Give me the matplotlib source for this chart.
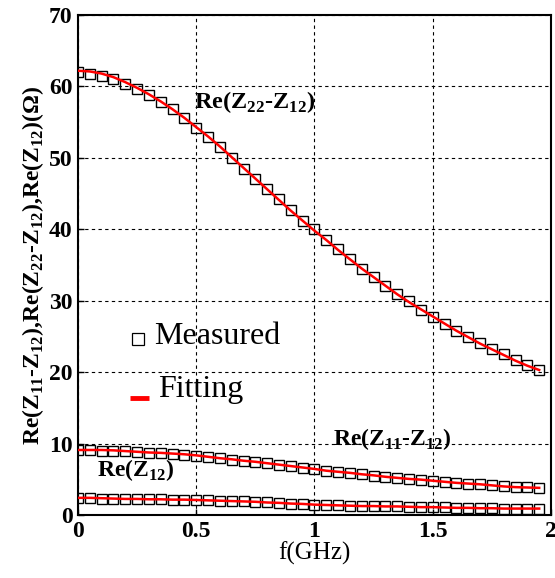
import numpy as np
import matplotlib
matplotlib.use("Agg")
import matplotlib.pyplot as plt

plt.rcParams['font.family'] = ['Liberation Serif', 'DejaVu Serif']
plt.rcParams['mathtext.fontset'] = 'custom'
plt.rcParams['mathtext.rm'] = 'Liberation Serif'
plt.rcParams['mathtext.bf'] = 'Liberation Serif:bold'

# frequency points (GHz)
freq = [0.0, 0.05, 0.1, 0.15, 0.2, 0.25, 0.3, 0.35, 0.4, 0.45,
        0.5, 0.55, 0.6, 0.65, 0.7, 0.75, 0.8, 0.85, 0.9, 0.95,
        1.0, 1.05, 1.1, 1.15, 1.2, 1.25, 1.3, 1.35, 1.4, 1.45,
        1.5, 1.55, 1.6, 1.65, 1.7, 1.75, 1.8, 1.85, 1.9, 1.95]

# measured
z22_meas = [62.0, 61.7, 61.5, 61.0, 60.4, 59.6, 58.8, 57.8, 56.8, 55.6,
            54.2, 52.9, 51.5, 50.0, 48.5, 47.1, 45.6, 44.3, 42.7, 41.2,
            40.0, 38.5, 37.2, 35.8, 34.4, 33.3, 32.1, 30.9, 29.9, 28.7,
            27.7, 26.8, 25.8, 24.9, 24.1, 23.3, 22.5, 21.7, 21.0, 20.25]
z11_meas = [9.05, 9.05, 9.0, 9.0, 8.9, 8.85, 8.75, 8.65, 8.55, 8.45,
            8.3, 8.1, 7.95, 7.75, 7.6, 7.45, 7.25, 7.05, 6.85, 6.6,
            6.4, 6.2, 6.05, 5.9, 5.7, 5.5, 5.3, 5.2, 5.05, 4.95,
            4.8, 4.65, 4.5, 4.4, 4.3, 4.15, 4.05, 3.95, 3.85, 3.75]
z12_meas = [2.35, 2.35, 2.3, 2.3, 2.25, 2.25, 2.2, 2.2, 2.15, 2.15,
            2.1, 2.05, 2.0, 1.95, 1.9, 1.85, 1.75, 1.7, 1.6, 1.55,
            1.45, 1.4, 1.35, 1.3, 1.25, 1.25, 1.2, 1.2, 1.15, 1.1,
            1.1, 1.05, 1.0, 1.0, 0.95, 0.95, 0.9, 0.9, 0.9, 0.85]

# fitting
z22_fit = [62.2, 62.1, 61.8, 61.3, 60.6, 59.8, 58.9, 57.9, 56.8, 55.6,
           54.3, 53.0, 51.6, 50.1, 48.6, 47.1, 45.6, 44.1, 42.6, 41.2,
           39.8, 38.5, 37.1, 35.8, 34.5, 33.3, 32.1, 30.9, 29.8, 28.8,
           27.8, 26.8, 25.8, 24.9, 24.0, 23.2, 22.4, 21.6, 20.9, 20.3]
z11_fit = [9.1, 9.1, 9.1, 9.05, 8.95, 8.85, 8.75, 8.7, 8.6, 8.5,
           8.35, 8.15, 7.95, 7.8, 7.6, 7.45, 7.25, 7.05, 6.85, 6.65,
           6.45, 6.2, 6.05, 5.9, 5.7, 5.55, 5.35, 5.2, 5.05, 4.95,
           4.8, 4.65, 4.5, 4.4, 4.3, 4.15, 4.0, 3.9, 3.85, 3.8]
z12_fit = [2.4, 2.4, 2.35, 2.3, 2.25, 2.25, 2.2, 2.2, 2.15, 2.15,
           2.1, 2.05, 2.0, 1.95, 1.9, 1.85, 1.75, 1.7, 1.6, 1.55,
           1.45, 1.4, 1.35, 1.3, 1.25, 1.25, 1.2, 1.2, 1.15, 1.1,
           1.1, 1.05, 1.0, 1.0, 0.95, 0.95, 0.9, 0.9, 0.9, 0.9]

fig = plt.figure(figsize=(5.55, 5.78), dpi=100)
ax = fig.add_axes([0.1405, 0.109, 0.8523, 0.865])

for meas, fit in [(z22_meas, z22_fit), (z11_meas, z11_fit), (z12_meas, z12_fit)]:
    ax.plot(freq, meas, linestyle='none', marker='s', markersize=7.5,
            markerfacecolor='none', markeredgecolor='black', markeredgewidth=1.0, zorder=3)
    ax.plot(freq, fit, color='red', linewidth=1.8, zorder=4)

ax.set_xlim(0, 2)
ax.set_ylim(0, 70)
ax.set_xticks([0, 0.5, 1, 1.5, 2])
ax.set_xticklabels(['0', '0.5', '1', '1.5', '2'])
ax.set_yticks(range(0, 71, 10))
ax.grid(True, linestyle=(0, (3, 3)), color='black', linewidth=0.8)
for s in ax.spines.values():
    s.set_linewidth(1.5)
ax.tick_params(direction='in', length=4, width=1, labelsize=17, pad=4)
for lab in ax.get_xticklabels() + ax.get_yticklabels():
    lab.set_fontweight('bold')

ax.set_xlabel('f(GHz)', fontsize=18, labelpad=0)
ax.set_ylabel(r'Re(Z$_{\mathbf{11}}$-Z$_{\mathbf{12}}$),Re(Z$_{\mathbf{22}}$-Z$_{\mathbf{12}}$),Re(Z$_{\mathbf{12}}$)($\mathbf{\Omega}$)',
              fontsize=17, fontweight='bold', labelpad=2)

ax.text(0.49, 57.8, r'Re(Z$_{\mathbf{22}}$-Z$_{\mathbf{12}}$)', fontsize=17.5, fontweight='bold', va='center')
ax.text(1.08, 10.6, r'Re(Z$_{\mathbf{11}}$-Z$_{\mathbf{12}}$)', fontsize=17, fontweight='bold', va='center')
ax.text(0.08, 6.3, r'Re(Z$_{\mathbf{12}}$)', fontsize=17, fontweight='bold', va='center')

# legend drawn by hand
ax.plot([0.255], [24.7], marker='s', markersize=8,
        markerfacecolor='none', markeredgecolor='black', markeredgewidth=0.9, zorder=5)
ax.text(0.32, 25.0, 'Measured', fontsize=23, va='center')
ax.plot([0.22, 0.30], [16.45, 16.45], color='red', linewidth=3.5, solid_capstyle='butt', zorder=5)
ax.text(0.34, 17.6, 'Fitting', fontsize=23, va='center')

fig.savefig('out.png', dpi=100)
